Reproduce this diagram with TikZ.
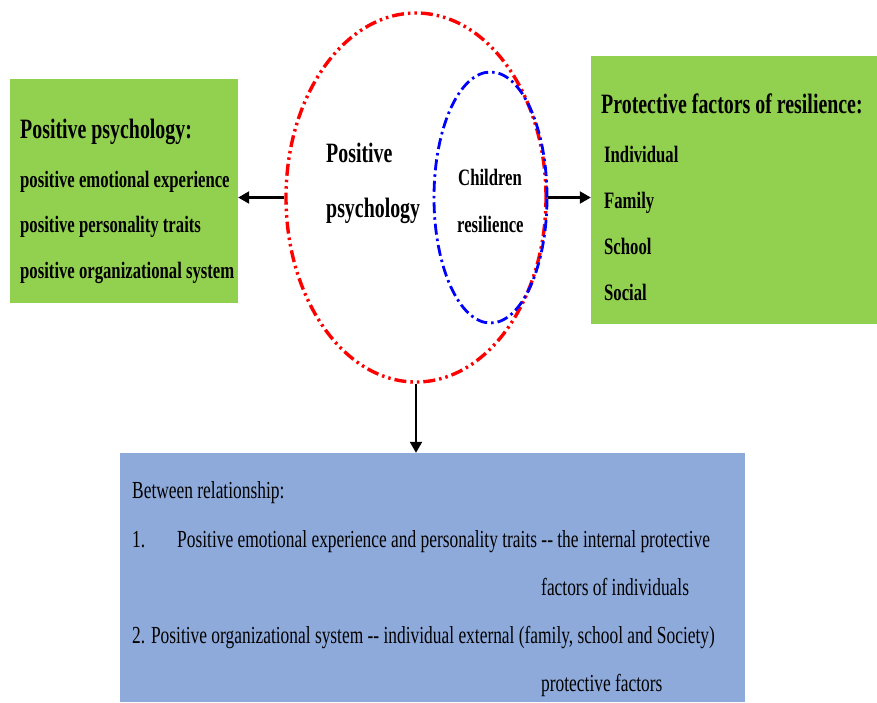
\documentclass[tikz,border=0pt]{standalone}
\usepackage{fontspec}
\setmainfont{Liberation Serif}[FakeStretch=0.71]
\usetikzlibrary{shapes.geometric,arrows.meta}

\definecolor{boxgreen}{HTML}{92D050}
\definecolor{boxblue}{HTML}{8EAADB}

\tikzset{
	panel/.style={draw=none,fill=#1,inner sep=0pt},
	txt/.style={anchor=base west,inner sep=0pt},
	link/.style={line width=2.2pt,-{Triangle[length=11pt,width=12pt]}},
}

\begin{document}
\begin{tikzpicture}[x=1pt,y=-1pt]

\def\headfont{\fontsize{28}{30}\selectfont\bfseries}
\def\itemfont{\fontsize{23.5}{26}\selectfont\bfseries}
\def\bodyfont{\fontsize{24.5}{26}\selectfont}
\def\clrouter{red}
\def\clrinner{blue}

\useasboundingbox (0,0) rectangle (877,702);

% left panel
\node [panel=boxgreen,minimum width=228,minimum height=224] (lbox) at (124,191) {};
\node [txt] (lhead) at (20,138) {\headfont Positive psychology:};
\node [txt] (lone) at (20,187) {\itemfont positive emotional experience};
\node [txt] (ltwo) at (20,232) {\itemfont positive personality traits};
\node [txt] (lthree) at (20,278) {\itemfont positive organizational system};

% right panel
\node [panel=boxgreen,minimum width=286,minimum height=268] (rbox) at (734,190) {};
\node [txt] (rhead) at (601,113) {\headfont Protective factors of resilience:};
\node [txt] (rone) at (604,162) {\itemfont Individual};
\node [txt] (rtwo) at (604,208) {\itemfont Family};
\node [txt] (rthree) at (604,254) {\itemfont School};
\node [txt] (rfour) at (604,300) {\itemfont Social};

% bottom panel
\node [panel=boxblue,minimum width=625,minimum height=249] (relbox) at (432.5,577.5) {};
\node [txt] (rela) at (132,498) {\bodyfont Between relationship:};
\node [txt] (relb) at (132,547) {\bodyfont 1.};
\node [txt] (relc) at (177,547) {\bodyfont Positive emotional experience and personality traits -{}- the internal protective};
\node [txt] (reld) at (541,595) {\bodyfont factors of individuals};
\node [txt] (rele) at (132,643) {\bodyfont 2. Positive organizational system -{}- individual external (family, school and Society)};
\node [txt] (relf) at (541,691) {\bodyfont protective factors};

% the two circles
\node [ellipse,draw=\clrouter,line width=3.4pt,minimum width=260,minimum height=369,
	dash pattern=on 12pt off 4pt on 2.5pt off 4pt on 2.5pt off 4pt] (ppsy) at (416,197.5) {};
\node [ellipse,draw=\clrinner,line width=2.8pt,minimum width=113,minimum height=251,
	dash pattern=on 11pt off 4pt on 2.5pt off 4pt] (cres) at (490.5,197.5) {};
\node [txt] (ptop) at (326,162) {\headfont Positive};
\node [txt] (pbot) at (326,217) {\headfont psychology};
\node [txt] (ctop) at (458,185) {\itemfont Children};
\node [txt] (cbot) at (457,232) {\itemfont resilience};

% links
\draw [link] (ppsy.west) -- (ppsy.west -| lbox.east);
\draw [link] (ppsy.east) -- (ppsy.east -| rbox.west);
\draw [link] (ppsy.south) -- (ppsy.south |- relbox.north);

\end{tikzpicture}
\end{document}
